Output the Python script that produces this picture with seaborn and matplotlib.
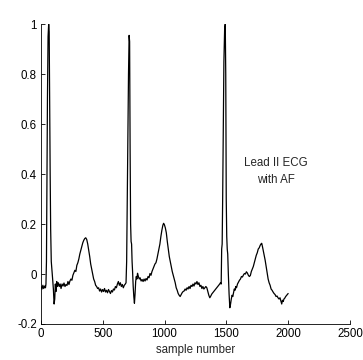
import numpy as np
import pandas as pd
import matplotlib
matplotlib.use("Agg")
import matplotlib.pyplot as plt
import seaborn as sns
from matplotlib.ticker import FormatStrFormatter

# ECG samples (sample number, amplitude)
samples = [
    0, 8, 15, 22, 30, 36, 40,
    44, 48, 52, 57, 62, 66, 70, 74, 78, 83, 88, 94, 100, 106, 111, 116, 121, 127, 133,
    140, 148, 155, 162, 170, 178, 186, 194, 202, 210, 218, 226, 234, 242, 250, 258, 266,
    274, 282, 290, 298, 306, 314, 322, 330, 338, 346, 354, 362, 370, 378, 386, 394, 402,
    410, 418, 426, 434, 442, 450, 458, 466, 474, 482, 490, 498, 506, 514, 522, 530, 538,
    546, 554, 562, 570, 578, 586, 594, 602, 610, 618, 626, 634, 642, 650, 658, 666, 674,
    682, 688,
    693, 698, 703, 708, 713, 717, 721, 725, 729, 733, 737, 741, 746, 751, 756, 761, 766,
    771, 776, 781, 788, 795, 802, 810, 818, 826, 834, 842, 850, 858, 866, 874, 882, 890,
    898, 906, 914, 922, 930, 938, 946, 954, 962, 970, 978, 986, 992, 998, 1006, 1014,
    1022, 1030, 1038, 1046, 1054, 1062, 1070, 1078, 1086, 1094, 1102, 1110, 1118, 1126,
    1134, 1142, 1150, 1158, 1166, 1174, 1182, 1190, 1198, 1206, 1214, 1222, 1230, 1238,
    1246, 1254, 1262, 1270, 1278, 1286, 1294, 1302, 1310, 1318, 1326, 1334, 1342, 1350,
    1358, 1366, 1374, 1382, 1390, 1398, 1406, 1414, 1422, 1430, 1438, 1446, 1452, 1458,
    1462, 1466, 1470, 1475, 1480, 1486, 1491, 1495, 1499, 1503, 1507, 1511, 1516, 1522,
    1528, 1534, 1540, 1546, 1552, 1558, 1564, 1570, 1576, 1582, 1590, 1598, 1606, 1614,
    1622, 1630, 1638, 1646, 1654, 1662, 1670, 1678, 1686, 1694, 1702, 1710, 1718, 1726,
    1734, 1742, 1750, 1758, 1766, 1774, 1780, 1786, 1792, 1798, 1806, 1814, 1822, 1830,
    1838, 1846, 1854, 1862, 1870, 1878, 1886, 1894, 1902, 1910, 1918, 1926, 1934, 1942,
    1948, 1954, 1960, 1966, 1972, 1980, 1988, 1996, 2000,
]
amplitude = [
    -0.050, -0.060, -0.045, -0.058, -0.048, -0.055, -0.040,
    0.05, 0.35, 0.70, 0.95, 1.00, 0.97, 0.68, 0.40, 0.18, 0.05, 0.02, -0.02, -0.06,
    -0.12, -0.10, -0.04, -0.07, -0.03, -0.05,
    -0.035, -0.05, -0.04, -0.058, -0.04, -0.048, -0.036, -0.05, -0.042, -0.046, -0.03,
    -0.042, -0.028, -0.02, -0.025, -0.005, 0.005,
    0.015, 0.01, 0.035, 0.045, 0.06, 0.08, 0.095, 0.11, 0.125, 0.135, 0.142, 0.145,
    0.138, 0.12, 0.095, 0.07, 0.04,
    0.02, 0.0, -0.02, -0.03, -0.045, -0.05, -0.058, -0.055, -0.068, -0.06, -0.072,
    -0.062, -0.07, -0.058, -0.072, -0.065, -0.075,
    -0.062, -0.07, -0.078, -0.066, -0.072, -0.06, -0.064, -0.05, -0.055, -0.04, -0.03,
    -0.045, -0.035, -0.05, -0.042, -0.055, -0.045,
    -0.04, -0.035,
    0.05, 0.3, 0.55, 0.8, 0.955, 0.93, 0.5, 0.2, 0.13, 0.12, 0.05, 0.01, -0.05, -0.09,
    -0.117, -0.08, -0.03,
    -0.01, -0.02, 0.003, -0.01, -0.02, -0.015, -0.028, -0.022, -0.03, -0.02, -0.028,
    -0.018, -0.024, -0.01, -0.015, 0.002, -0.005,
    0.01, 0.02, 0.03, 0.04, 0.045, 0.06, 0.08, 0.1, 0.12, 0.15, 0.175, 0.195, 0.203,
    0.198, 0.185, 0.165,
    0.13, 0.1, 0.07, 0.05, 0.03, 0.01, -0.005, -0.02, -0.035, -0.055, -0.065, -0.078,
    -0.085, -0.09,
    -0.082, -0.075, -0.07, -0.068, -0.06, -0.065, -0.055, -0.06, -0.05, -0.058, -0.045,
    -0.05, -0.04, -0.048,
    -0.035, -0.04, -0.03, -0.042, -0.035, -0.05, -0.045, -0.058, -0.05, -0.06, -0.055,
    -0.05, -0.055, -0.07,
    -0.085, -0.095, -0.088, -0.08, -0.075, -0.07, -0.065, -0.06, -0.055, -0.05, -0.045,
    -0.04, -0.035, -0.04,
    0.1, 0.12, 0.3, 0.6, 0.85, 0.98, 1.0, 0.8, 0.3, 0.15, 0.1, 0.08, 0.0, -0.08,
    -0.135, -0.12, -0.1, -0.085, -0.09, -0.075, -0.06, -0.065, -0.05, -0.055, -0.04,
    -0.032, -0.025, -0.02,
    -0.01, -0.012, -0.004, 0.002, 0.0, 0.009, 0.004, -0.005, -0.01, -0.006, 0.01, 0.02,
    0.03, 0.045,
    0.06, 0.075, 0.085, 0.1, 0.105, 0.115, 0.12, 0.123, 0.11, 0.095, 0.075, 0.055, 0.03,
    0.005,
    -0.02, -0.035, -0.045, -0.06, -0.065, -0.072, -0.078, -0.082, -0.09, -0.088, -0.095,
    -0.1, -0.095, -0.11,
    -0.12, -0.105, -0.11, -0.1, -0.097, -0.09, -0.085, -0.08, -0.078,
]
x_ticks = [0, 500, 1000, 1500, 2000, 2500]
y_ticks = [-0.2, 0, 0.2, 0.4, 0.6, 0.8, 1]

df = pd.DataFrame({"sample": samples, "amp": amplitude})

sns.set_style("ticks")
plt.rcParams["font.family"] = ["Liberation Sans", "DejaVu Sans"]
plt.rcParams["xtick.direction"] = "in"
plt.rcParams["ytick.direction"] = "in"

fig = plt.figure(figsize=(3.63, 3.60), dpi=100)
ax = fig.add_axes([0.113, 0.1, 0.851, 0.833])

sns.lineplot(data=df, x="sample", y="amp", estimator=None, sort=False,
             color="black", linewidth=0.9, ax=ax)

ax.set_xlim(0, 2500)
ax.set_ylim(-0.2, 1)
ax.set_xticks(x_ticks)
ax.set_yticks(y_ticks)
ax.yaxis.set_major_formatter(FormatStrFormatter("%g"))
ax.tick_params(labelsize=8.3, length=3, width=0.6, colors="black", pad=3)
for side in ["top", "right"]:
    ax.spines[side].set_visible(False)
for side in ["left", "bottom"]:
    ax.spines[side].set_linewidth(0.6)
    ax.spines[side].set_color("black")

ax.set_xlabel("sample number", fontsize=8.3, labelpad=2.5)
ax.set_ylabel("")
ax.text(1900, 0.41, "Lead II ECG\nwith AF", fontsize=8.3, ha="center", va="center",
        multialignment="center", linespacing=1.55)

fig.savefig("out.png", dpi=100)
